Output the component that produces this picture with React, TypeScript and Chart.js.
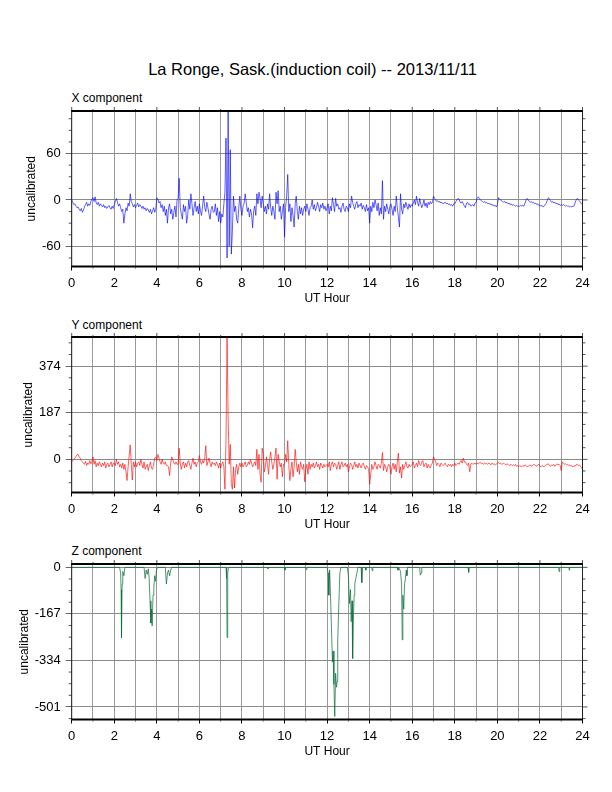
import React, { useEffect, useRef } from "react";
import { Chart, registerables } from "chart.js";

Chart.register(...registerables);

const FONT = "'Liberation Sans', Arial, Helvetica, sans-serif";
const STEP = 0.05; // hours between samples of X and Y

// X component (blue), one value every 0.05 h from 0 to 24 h
const xValues = [
  0, -3, -6, -5, -8, -10, -9, -12, -14, -11, -16, -13, -9, -6, -3, -8, -5, -7, -2, 1,
  3, -2, 4, -4, -6, -3, -8, -5, -7, -9, -6, -10, -8, -11, -9, -7, -10, -12, -8, -11,
  -6, -2, 2, -3, -8, -5, -10, -15, -12, -30, -18, -10, -14, -4, -8, 8, -2, -5, -9, -6,
  -10, -7, -4, -9, -6, -8, -11, -8, -12, -10, -14, -11, -13, -16, -12, -18, -14, -10, -16, -12,
  3, 1, -4, -2, -10, -6, -15, -8, -20, -12, -30, -10, -5, -18, -12, -25, -16, -8, -22, 0,
  2, 28, -10, -18, -25, -6, -15, -8, -30, -20, 0, -12, 8, -5, -20, -10, -2, -15, -8, -18,
  -5, -14, -20, -8, 5, -10, -15, -3, -10, -18, -25, -12, -8, -16, -15, -5, -20, -10, -28, -15,
  -30, -18, -22, -5, 10, 80, -75, 115, -60, 65, -70, -40, 5, -15, -8, -25, -30, -10, 5, -12,
  -20, -8, -5, 8, -3, -15, -10, -22, -12, -18, -36, -14, -8, -20, 8, -5, 10, 2, -10, 5,
  -5, -15, -8, -18, -5, -12, 8, -10, -20, -8, -15, -25, 10, -5, 12, -15, -8, -25, -15, -5,
  -48, -10, 5, 33, -15, -5, -28, -10, -20, -35, -5, 5, -15, -25, -8, -18, -10, -20, -12, -8,
  -15, -5, -12, -20, -10, -8, 0, -12, -6, -14, -10, -3, -8, -15, -6, -10, -4, -12, -8, -14,
  -10, -5, -18, -8, -14, 3, -6, -15, 2, -8, -5, -12, -10, -16, -8, -4, -12, -15, -8, -10,
  -15, -5, -10, 5, -3, -8, -12, -5, -2, -10, -6, -8, -4, -12, -7, -10, -15, -6, -14, -10,
  -30, -8, -15, -3, -10, 0, -6, -14, -4, -20, -10, -18, 25, -25, -8, -15, -5, -12, -18, -8,
  -5, -12, -20, -8, -15, 5, -10, -22, -35, 8, -12, -18, -5, -10, -3, -8, -12, -5, -10, -6,
  -8, -4, 0, -6, 5, -3, -8, 2, -5, -10, -6, 0, -8, -4, -10, -3, -6, -2, -5, -3,
  5, 2, 0, -2, -1, -3, -2, -4, -3, -5, -4, -3, -5, -4, -6, -5, -7, -6, -8, -5,
  -5, -2, 0, 2, 1, -3, -4, -2, -5, -8, -10, -4, -3, -6, -5, -8, -7, -6, -8, -4,
  -3, 2, 4, 2, 0, -1, -2, -3, -2, -4, -3, -5, -4, -6, -5, -7, -6, -8, -7, -9,
  -6, 3, 1, 0, -1, -2, -3, -2, -4, -3, -5, -4, -6, -5, -7, -6, -7, -8, -7, -8,
  -8, -8, -7, -8, -7, -8, -4, 0, 2, 0, -2, -3, -2, -4, -3, -5, -4, -6, -5, -7,
  -7, -8, -7, -9, -8, -6, -4, 0, 3, 1, -1, -3, -2, -4, -3, -5, -4, -6, -5, -7,
  -6, -7, -6, -7, -8, -7, -8, -8, -9, -8, -9, -8, -8, -4, 0, 2, 1, -1, -3, -5,
  -5,
];

// Y component (red), one value every 0.05 h
const yValues = [
  -10, -5, 0, 5, 12, 18, 20, 10, 5, -5, -10, -15, -20, -8, -25, -15, -20, -5, -18, -10,
  10, -20, -5, -30, -15, -25, -10, -20, -30, -15, -25, -10, -35, -20, -15, -30, -20, -10, -30, -15,
  -15, -25, 0, -20, -10, -30, -20, -35, -15, -40, -20, -50, -85, -30, 15, 58, -20, -83, -10, -30,
  -10, -30, -15, -10, -25, 0, -20, -35, -10, -40, -30, -20, -45, -25, -10, -35, -40, -20, 5, 10,
  -5, 20, 5, -10, -20, 0, -15, -20, -10, -25, -25, -30, -65, -15, 10, 0, -15, -20, -10, -20,
  -20, 45, -15, -40, -20, -10, -35, -15, -30, -10, -5, -25, -40, -15, 5, -20, -10, -30, -15, -10,
  15, -10, -20, -5, -15, 5, 55, -25, -10, 5, -15, -30, -10, -20, -15, -25, -10, -20, -35, -15,
  -35, -20, -10, -30, -120, 80, 490, 165, -20, 60, -100, -120, -30, -115, -40, -20, -60, -30, -15, -30,
  -15, -30, -20, -10, -30, -25, -10, -20, 0, -15, -30, -20, -10, -25, 40, -40, 20, -60, -92, 45,
  20, -50, -30, 10, -20, -60, 0, 30, -10, -40, -20, 10, 45, -80, 20, -10, -30, -15, -70, -20,
  -20, 20, -10, 75, -20, -85, -40, -10, -70, -30, 40, -10, -50, -20, -60, -10, -30, -40, -20, -90,
  -40, -20, -60, -10, -40, -20, -30, -15, -35, -25, -10, -30, -20, -40, -15, -25, -35, -20, -30, -25,
  -20, -30, -10, -45, -20, -10, -30, -15, -20, -40, -25, -10, -40, -20, -10, -30, -25, -15, -30, -20,
  -50, -30, -15, -20, -40, -25, -10, -30, -20, -35, -15, -25, -35, -20, -15, -30, -40, -25, -30, -40,
  -100, -60, -20, -40, -30, -10, -25, -40, -20, -25, -35, -15, 27, -45, -20, -30, -50, -30, -20, -30,
  -60, -30, -15, -40, -20, -50, -10, 25, -55, -30, -75, -20, -40, -25, -10, -30, -35, -20, -30, -25,
  -20, -10, -35, -25, -15, -30, -5, -20, -25, -10, -5, -30, -20, -15, -35, -20, -30, -35, -20, -15,
  10, 0, -10, -25, -15, -20, -30, -15, -20, -25, -20, -15, -25, -30, -20, -25, -20, -30, -20, -25,
  -15, -25, -20, -15, -20, -10, -5, -15, 5, -10, -10, -20, -25, -15, -50, -20, -15, -20, -18, -15,
  -20, -15, -18, -15, -12, -18, -15, -20, -15, -18, -16, -20, -15, -18, -22, -15, -20, -18, -22, -20,
  -15, -12, -18, -15, -20, -18, -15, -20, -22, -18, -20, -25, -22, -20, -25, -22, -25, -20, -28, -25,
  -30, -25, -28, -30, -25, -28, -22, -25, -30, -28, -25, -22, -28, -25, -20, -22, -25, -28, -22, -20,
  -28, -30, -25, -28, -30, -25, -22, -20, -18, -25, -28, -22, -25, -20, -28, -22, -18, -22, -20, -25,
  -45, -10, -15, -20, -18, -22, -20, -25, -22, -28, -25, -30, -25, -28, -22, -20, -25, -22, -28, -32,
  -40,
];

// Z component (green): [hour, value] samples, baseline 0 between bursts
const zTrace: [number, number][] = [
  [0, 0], [2.25, 0], [2.3, -20], [2.32, -80], [2.34, -252], [2.37, -60], [2.4, -15], [2.45, -30], [2.5, 0],
  [3.4, 0], [3.45, -40], [3.5, -10], [3.55, -25], [3.6, -5], [3.64, -40], [3.68, -120], [3.72, -200],
  [3.75, -150], [3.78, -210], [3.82, -100], [3.86, -70], [3.9, -30], [3.94, -50], [3.98, -10], [4.03, 0],
  [4.4, 0], [4.45, -60], [4.5, -20], [4.55, -10], [4.6, -30], [4.65, -10], [4.7, 0],
  [7.25, 0], [7.28, -40], [7.3, -252], [7.33, -20], [7.37, 0],
  [9.2, 0], [9.22, -5], [9.25, 0], [10, 0], [10.02, -10], [10.05, 0], [11, 0], [11.02, -8], [11.05, 0],
  [12, 0], [12.05, -20], [12.08, -100], [12.12, -10], [12.18, -150], [12.25, -340], [12.28, -300],
  [12.32, -420], [12.36, -535], [12.4, -380], [12.44, -430], [12.47, -410], [12.5, -260], [12.55, -135],
  [12.6, -20], [12.65, 0],
  [12.95, 0], [13, -30], [13.05, -130], [13.1, -80], [13.13, -195], [13.17, -120], [13.2, -327],
  [13.23, -200], [13.27, -100], [13.3, -60], [13.35, -40], [13.4, -20], [13.45, 0],
  [13.6, 0], [13.63, -55], [13.66, 0], [13.8, 0], [13.82, -10], [13.85, 0], [14.1, 0], [14.12, -12], [14.15, 0],
  [15.3, 0], [15.33, -10], [15.36, 0], [15.45, -15], [15.5, -60], [15.53, -260], [15.56, -100],
  [15.6, -150], [15.64, -60], [15.68, -40], [15.72, -10], [15.75, -30], [15.78, 0],
  [16.35, 0], [16.38, -28], [16.42, -20], [16.45, 0], [18.63, 0], [18.65, -18], [18.68, 0],
  [22.88, 0], [22.9, -15], [22.93, 0], [23.35, 0], [23.38, -10], [23.4, 0], [24, 0],
];

// axis ticks
const hourTicks = [0, 1, 2, 3, 4, 5, 6, 7, 8, 9, 10, 11, 12, 13, 14, 15, 16, 17, 18, 19, 20, 21, 22, 23, 24];
const xMajorTicks = [-60, 0, 60];
const xMinorTicks = [-75, -45, -30, -15, 15, 30, 45, 75, 90, 105];
const yMajorTicks = [0, 187, 374];
const yMinorTicks = [-93.5, -46.75, 46.75, 93.5, 140.25, 233.75, 280.5, 327.25, 420.75, 467.5];
const zMajorTicks = [0, -167, -334, -501];
const zMinorTicks = [-41.75, -83.5, -125.25, -208.75, -250.5, -292.25, -375.75, -417.5, -459.25, -542.75];

type Panel = {
  label: string;
  labelTop: number;
  areaTop: number;
  min: number;
  max: number;
  major: number[];
  minor: number[];
  color: string;
  width: number;
  titlePad: number;
  points: { x: number; y: number }[];
};

const panels: Panel[] = [
  {
    label: "X component", labelTop: 90.5, areaTop: 110.7, min: -86, max: 115,
    major: xMajorTicks, minor: xMinorTicks, color: "rgba(0,0,255,0.9)", width: 0.7, titlePad: 24,
    points: xValues.map((v, i) => ({ x: i * STEP, y: v })),
  },
  {
    label: "Y component", labelTop: 317.5, areaTop: 337.3, min: -133, max: 491,
    major: yMajorTicks, minor: yMinorTicks, color: "rgba(255,0,0,0.9)", width: 0.7, titlePad: 21.5,
    points: yValues.map((v, i) => ({ x: i * STEP, y: v })),
  },
  {
    label: "Z component", labelTop: 544, areaTop: 564, min: -546, max: 12,
    major: zMajorTicks, minor: zMinorTicks, color: "rgba(10,110,60,0.9)", width: 0.8, titlePad: 17.5,
    points: zTrace.map(([h, v]) => ({ x: h, y: v })),
  },
];

const AREA_H = 155.5;
const PAD_TOP = 14;
const CANVAS_H = 212;
const X_AXIS_H = 40;
const Y_AXIS_W = 71.7;
const PAD_RIGHT = 29.5;

const frameTicks = {
  id: "frameTicks",
  afterDraw(chart: any, _args: any, opts: any) {
    const { ctx, chartArea: a, scales } = chart;
    const ys = scales.y;
    const xs = scales.x;
    ctx.save();
    ctx.strokeStyle = "#555";
    ctx.lineWidth = 1;
    ctx.beginPath();
    for (const v of opts.minor || []) {
      const py = ys.getPixelForValue(v);
      ctx.moveTo(a.left - 3, py);
      ctx.lineTo(a.left, py);
      ctx.moveTo(a.right, py);
      ctx.lineTo(a.right + 3, py);
    }
    for (const v of opts.major || []) {
      const py = ys.getPixelForValue(v);
      ctx.moveTo(a.right, py);
      ctx.lineTo(a.right + 5, py);
    }
    for (const h of hourTicks) {
      const px = xs.getPixelForValue(h);
      const len = h % 2 === 0 ? 4 : 2;
      ctx.moveTo(px, a.top - len);
      ctx.lineTo(px, a.top);
    }
    ctx.stroke();
    // short grey ticks below the axis at odd hours
    ctx.strokeStyle = "#9a9a9a";
    ctx.beginPath();
    for (const h of hourTicks) {
      if (h % 2 === 0) continue;
      const px = xs.getPixelForValue(h);
      ctx.moveTo(px, a.bottom);
      ctx.lineTo(px, a.bottom + 2.5);
    }
    ctx.stroke();
    // frame
    ctx.strokeStyle = "#222";
    ctx.lineWidth = 1;
    ctx.beginPath();
    ctx.moveTo(a.left, a.top);
    ctx.lineTo(a.left, a.bottom);
    ctx.moveTo(a.right, a.top);
    ctx.lineTo(a.right, a.bottom);
    ctx.stroke();
    ctx.strokeStyle = "#000";
    ctx.lineWidth = 2;
    ctx.beginPath();
    ctx.moveTo(a.left - 0.5, a.top);
    ctx.lineTo(a.right + 0.5, a.top);
    ctx.moveTo(a.left - 0.5, a.bottom);
    ctx.lineTo(a.right + 0.5, a.bottom);
    ctx.stroke();
    ctx.restore();
  },
};

function PanelChart({ p }: { p: Panel }) {
  const ref = useRef<HTMLCanvasElement | null>(null);
  useEffect(() => {
    if (!ref.current) return;
    const chart = new Chart(ref.current, {
      type: "line",
      data: {
        datasets: [
          {
            data: p.points,
            borderColor: p.color,
            borderWidth: p.width,
            pointRadius: 0,
            tension: 0,
            fill: false,
          },
        ],
      },
      options: {
        animation: false,
        responsive: false,
        parsing: false,
        normalized: true,
        events: [],
        layout: {
          padding: { top: PAD_TOP, right: PAD_RIGHT, left: 0, bottom: CANVAS_H - PAD_TOP - AREA_H - X_AXIS_H },
        },
        plugins: {
          legend: { display: false },
          tooltip: { enabled: false },
          frameTicks: { minor: p.minor, major: p.major },
        } as any,
        scales: {
          x: {
            type: "linear",
            min: 0,
            max: 24,
            afterBuildTicks: (s: any) => {
              s.ticks = hourTicks.map((v) => ({ value: v }));
            },
            afterFit: (s: any) => {
              s.height = X_AXIS_H;
            },
            ticks: {
              autoSkip: false,
              maxRotation: 0,
              minRotation: 0,
              padding: 5.5,
              color: "#000",
              font: { family: FONT, size: 13 },
              callback: (v: any) => (Number(v) % 2 === 0 ? String(v) : ""),
            },
            grid: {
              color: "#9a9a9a",
              lineWidth: 1,
              tickLength: 4,
              tickColor: (c: any) => (c.tick && c.tick.value % 2 === 0 ? "#000" : "rgba(0,0,0,0)"),
            },
            border: { display: false },
            title: {
              display: true,
              text: "UT Hour",
              color: "#000",
              font: { family: FONT, size: 12 },
              padding: { top: 0, bottom: 0.5 },
            },
          },
          y: {
            type: "linear",
            min: p.min,
            max: p.max,
            afterBuildTicks: (s: any) => {
              s.ticks = p.major.map((v) => ({ value: v }));
            },
            afterFit: (s: any) => {
              s.width = Y_AXIS_W;
            },
            ticks: {
              padding: 5,
              color: "#000",
              font: { family: FONT, size: 13 },
              callback: (v: any) => String(v),
            },
            grid: { color: "#8a8a8a", lineWidth: 1, tickLength: 6, tickColor: "#666" },
            border: { display: false },
            title: {
              display: true,
              text: "uncalibrated",
              color: "#000",
              font: { family: FONT, size: 12 },
              padding: { top: p.titlePad, bottom: 0 },
            },
          },
        },
      } as any,
      plugins: [frameTicks as any],
    });
    return () => chart.destroy();
  }, [p]);

  return (
    <>
      <div
        style={{
          position: "absolute",
          left: 71.5,
          top: p.labelTop,
          fontFamily: FONT,
          fontSize: 12,
          lineHeight: "14px",
          color: "#000",
          whiteSpace: "nowrap",
        }}
      >
        {p.label}
      </div>
      <canvas
        ref={ref}
        width={612}
        height={CANVAS_H}
        style={{ position: "absolute", left: 0, top: p.areaTop - PAD_TOP, width: 612, height: CANVAS_H }}
      />
    </>
  );
}

export default function App() {
  return (
    <div
      style={{
        position: "absolute",
        left: 0,
        top: 0,
        width: 612,
        height: 792,
        background: "#fff",
        overflow: "hidden",
      }}
    >
      <div
        style={{
          position: "absolute",
          left: 0,
          width: 625,
          top: 59,
          textAlign: "center",
          fontFamily: FONT,
          fontSize: 16.5,
          lineHeight: "20px",
          color: "#000",
          whiteSpace: "nowrap",
        }}
      >
        La Ronge, Sask.(induction coil) -- 2013/11/11
      </div>
      {panels.map((p) => (
        <PanelChart key={p.label} p={p} />
      ))}
    </div>
  );
}
